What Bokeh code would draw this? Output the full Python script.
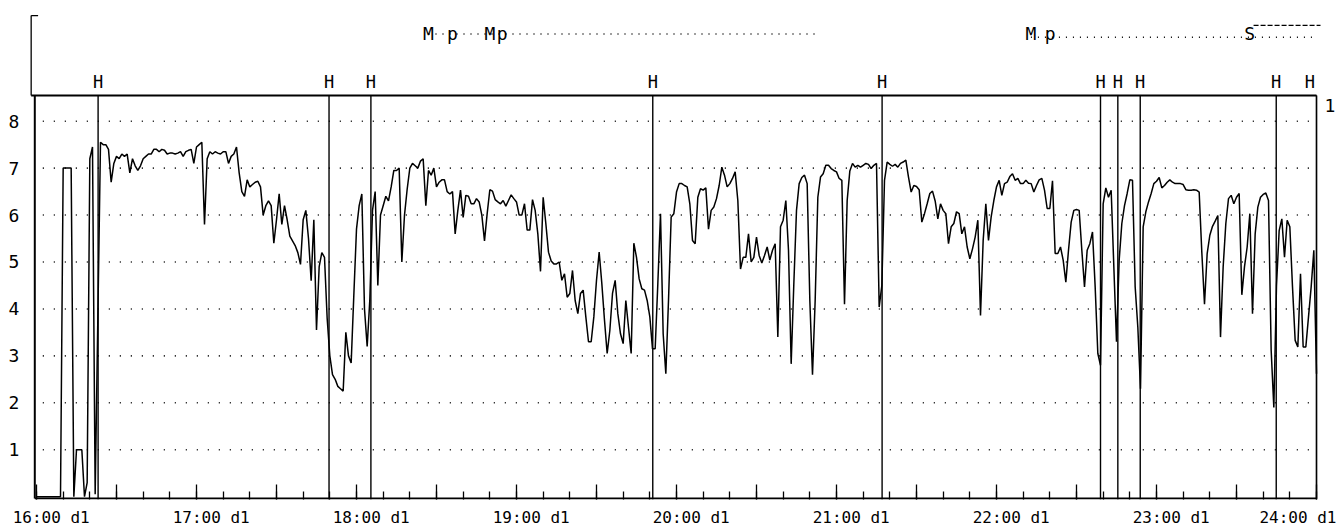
from bokeh.plotting import figure
from bokeh.models import Range1d, FixedTicker, Label
from bokeh.embed import file_html
from bokeh.resources import INLINE
from bokeh.core.properties import value

# ---------------- data ----------------
# one value per minute from 16:00 (minute 0) to 24:00 (minute 480)
values = [
    0, 0, 0, 0, 0, 0, 0, 0, 0, 0,
    7.0, 7.0, 7.0, 7.0, 0.0, 1.0, 1.0, 1.0, 0.0, 0.3,
    7.2, 7.45, 0.05, 3.8, 7.55, 7.5, 7.5, 7.4, 6.7, 7.1,
    7.25, 7.2, 7.3, 7.25, 7.3, 6.9, 7.2, 7.05, 6.95, 7.05,
    7.2, 7.25, 7.3, 7.3, 7.4, 7.4, 7.35, 7.4, 7.38, 7.3,
    7.32, 7.32, 7.3, 7.32, 7.35, 7.25, 7.35, 7.38, 7.4, 7.1,
    7.45, 7.5, 7.55, 5.8, 7.2, 7.35, 7.3, 7.35, 7.32, 7.3,
    7.35, 7.35, 7.1, 7.25, 7.3, 7.45, 6.9, 6.5, 6.4, 6.75,
    6.6, 6.65, 6.7, 6.72, 6.6, 6.0, 6.2, 6.3, 6.2, 5.4,
    5.9, 6.45, 5.8, 6.2, 5.9, 5.55, 5.45, 5.35, 5.2, 4.95,
    5.9, 6.1, 5.5, 4.6, 5.9, 3.55, 4.9, 5.2, 5.1, 3.8,
    3.0, 2.6, 2.5, 2.35, 2.3, 2.25, 3.5, 3.0, 2.85, 4.3,
    5.7, 6.2, 6.45, 4.0, 3.2, 4.2, 6.1, 6.5, 4.5, 6.0,
    6.2, 6.4, 6.3, 6.6, 6.95, 6.95, 7.0, 5.0, 6.0, 6.55,
    7.0, 7.1, 7.05, 7.0, 7.15, 7.2, 6.2, 6.95, 6.85, 7.0,
    6.6, 6.7, 6.75, 6.75, 6.5, 6.45, 6.5, 5.6, 6.1, 6.53,
    5.95, 6.42, 6.4, 6.24, 6.24, 6.35, 6.28, 6.0, 5.45, 6.03,
    6.54, 6.51, 6.33, 6.28, 6.24, 6.31, 6.19, 6.31, 6.43, 6.35,
    6.28, 6.0, 6.0, 6.24, 5.68, 5.68, 6.33, 6.1, 5.6, 4.8,
    6.38, 5.82, 5.21, 5.02, 4.96, 4.96, 5.0, 4.61, 4.75, 4.25,
    4.33, 4.82, 4.18, 3.9, 4.33, 4.4, 3.83, 3.3, 3.3, 3.83,
    4.61, 5.21, 4.54, 3.76, 3.05, 3.54, 4.33, 4.61, 3.9, 3.47,
    3.26, 4.18, 3.61, 3.05, 5.4, 5.1, 4.64, 4.43, 4.4, 4.18,
    3.83, 3.15, 3.15, 4.54, 6.03, 3.47, 2.62, 4.18, 5.96, 6.03,
    6.49, 6.67, 6.67, 6.63, 6.6, 6.24, 5.46, 5.39, 6.38, 6.56,
    6.53, 6.58, 5.7, 6.1, 6.17, 6.35, 6.63, 7.02, 6.85, 6.6,
    6.67, 6.78, 6.92, 6.31, 4.85, 5.1, 5.1, 5.6, 5.0, 5.1,
    5.53, 5.14, 4.98, 5.14, 5.32, 5.04, 5.25, 5.39, 3.4, 5.75,
    5.89, 6.31, 5.25, 2.83, 4.54, 6.1, 6.67, 6.8, 6.85, 6.67,
    4.18, 2.6, 4.18, 6.38, 6.81, 6.88, 7.06, 7.06, 6.99, 6.95,
    6.92, 6.78, 6.74, 4.1, 6.31, 6.94, 7.1, 7.02, 7.06, 7.02,
    7.06, 7.1, 7.08, 6.99, 7.06, 7.1, 4.04, 4.5, 6.74, 7.13,
    7.08, 7.04, 7.08, 7.02, 7.1, 7.13, 7.17, 6.81, 6.49, 6.63,
    6.61, 6.54, 5.85, 6.03, 6.24, 6.46, 6.51, 6.3, 5.92, 6.24,
    6.1, 6.03, 5.39, 5.75, 5.82, 6.07, 6.03, 5.6, 5.75, 5.32,
    5.07, 5.28, 5.53, 5.89, 3.86, 5.46, 6.24, 5.46, 5.96, 6.31,
    6.6, 6.74, 6.42, 6.67, 6.7, 6.82, 6.88, 6.74, 6.78, 6.67,
    6.67, 6.74, 6.68, 6.67, 6.49, 6.63, 6.75, 6.78, 6.53, 6.14,
    6.14, 6.73, 5.18, 5.18, 5.32, 5.04, 4.57, 5.25, 5.85, 6.1,
    6.12, 6.1, 5.25, 4.47, 5.25, 5.39, 5.64, 4.47, 3.05, 2.8,
    6.24, 6.58, 6.38, 6.53, 4.9, 3.3, 5.04, 5.82, 6.2, 6.46,
    6.75, 6.74, 4.47, 3.61, 2.3, 5.75, 6.07, 6.28, 6.46, 6.67,
    6.72, 6.8, 6.58, 6.63, 6.7, 6.75, 6.7, 6.67, 6.67, 6.67,
    6.65, 6.54, 6.53, 6.53, 6.54, 6.53, 6.49, 5.2, 4.1, 5.18,
    5.57, 5.76, 5.87, 5.99, 3.4, 4.9, 5.82, 6.35, 6.42, 6.24,
    6.38, 6.46, 4.3, 4.9, 5.32, 6.03, 3.9, 5.6, 6.17, 6.38,
    6.44, 6.47, 6.31, 3.12, 1.9, 4.5, 5.67, 5.92, 5.1, 5.89,
    5.75, 4.47, 3.33, 3.19, 4.75, 3.19, 3.19, 3.83, 4.47, 5.25,
    2.62,
]
minutes = list(range(len(values)))

y_ticks = [1, 2, 3, 4, 5, 6, 7, 8]
y_tick_labels = ["1", "2", "3", "4", "5", "6", "7", "8"]
hour_ticks = [0, 60, 120, 180, 240, 300, 360, 420, 480]
hour_labels = ["16:00 d1", "17:00 d1", "18:00 d1", "19:00 d1", "20:00 d1",
               "21:00 d1", "22:00 d1", "23:00 d1", "24:00 d1"]

# "H" event times (minutes after 16:00)
h_times = [23.1, 109.7, 125.4, 231.1, 317.1, 399.0, 405.5, 413.9, 464.9, 480.0]

# top-panel markers
marker_text = ["M", "p", "M", "p", "M", "p", "S"]
marker_times = [147.0, 156.0, 170.0, 174.6, 372.9, 380.1, 454.9]
dotted_start = [147.0, 372.9]
dotted_end = [292.9, 480.0]
dashed_start = [456.4]
dashed_end = [481.5]

# ---------------- layout constants ----------------
FONT = "DejaVu Sans Mono"
PX_PER_UNIT = 46.94
Y_LO, Y_HI = -0.06, 10.273
X_LO, X_HI = -13.5, 487.5
AXIS_X = -0.64          # left axis line
PANEL_X = -2.0          # left line of the top panel
TOP_Y = 8.547           # top border of the chart area
END_X = 480.0
LABEL_SHIFT = 5.5       # label centre right of its tick so that the time part sits on the tick
YLABEL_X = -6.4         # right edge of the y tick labels
H_LABEL_Y = 8.835
MARKER_Y = 9.86

p = figure(width=1336, height=529, output_backend="svg", toolbar_location=None,
           x_range=Range1d(X_LO, X_HI), y_range=Range1d(Y_LO, Y_HI),
           min_border_left=0, min_border_right=0, min_border_top=14,
           min_border_bottom=30)
p.title.visible = False
p.outline_line_color = None
p.grid.visible = False
p.yaxis.visible = False
p.background_fill_color = "white"
p.border_fill_color = "white"

# x axis: hour labels (major, no tick line) + 10-min minor ticks
ax = p.xaxis[0]
label_pos = [t + LABEL_SHIFT for t in hour_ticks]
edge_pos = X_LO + 0.5   # empty label at the very left edge
ax.ticker = FixedTicker(ticks=[edge_pos] + label_pos, minor_ticks=list(range(0, 481, 10)))
ax.axis_line_color = None
ax.major_tick_line_color = None
ax.major_tick_in = 0
ax.major_tick_out = 0
ax.minor_tick_in = 8
ax.minor_tick_out = 0
ax.minor_tick_line_color = "black"
ax.minor_tick_line_width = 1.3
overrides = {pos: lab for pos, lab in zip(label_pos, hour_labels)}
overrides[edge_pos] = ""
ax.major_label_overrides = overrides
ax.major_label_standoff = 8
ax.major_label_text_font = FONT
ax.major_label_text_font_size = "16px"
ax.major_label_text_color = "black"

# tall half-hour ticks
half_hours = list(range(0, 481, 30))
p.segment(x0=half_hours, y0=[Y_LO] * len(half_hours), x1=half_hours,
          y1=[Y_LO + 15.0 / PX_PER_UNIT] * len(half_hours),
          line_color="black", line_width=1.3)

# y tick labels
p.text(x=[YLABEL_X] * len(y_ticks), y=y_ticks, text=y_tick_labels,
       text_align="right", text_baseline="middle",
       text_font=value(FONT), text_font_size="18px", text_color="black")

# dotted horizontal grid
p.segment(x0=[AXIS_X + 3] * len(y_ticks), y0=y_ticks, x1=[END_X] * len(y_ticks), y1=y_ticks,
          line_color="black", line_width=1.6, line_dash="1 10")

# frame lines
bottom_y = Y_LO + 1.0 / PX_PER_UNIT
p.segment(x0=[AXIS_X, PANEL_X, AXIS_X], y0=[bottom_y, TOP_Y, bottom_y],
          x1=[END_X, END_X, AXIS_X], y1=[bottom_y, TOP_Y, TOP_Y],
          line_color="black", line_width=2)
p.segment(x0=[END_X, PANEL_X, PANEL_X], y0=[bottom_y, TOP_Y, 10.25],
          x1=[END_X, PANEL_X, PANEL_X + 2.6], y1=[TOP_Y, 10.25, 10.25],
          line_color="black", line_width=1.3)

# H event lines and labels
p.segment(x0=h_times, y0=[Y_LO] * len(h_times), x1=h_times, y1=[TOP_Y] * len(h_times),
          line_color="black", line_width=1.4)
h_label_x = [min(t, 477.5) for t in h_times]
p.text(x=h_label_x, y=[H_LABEL_Y] * len(h_times), text=["H"] * len(h_times),
       text_align="center", text_baseline="middle",
       text_font=value(FONT), text_font_size="17px", text_color="black")

# main trace
p.line(minutes, values, line_color="black", line_width=1.5)

# top panel: marker states
p.segment(x0=dotted_start, y0=[9.86, 9.79], x1=dotted_end, y1=[9.86, 9.79],
          line_color="black", line_width=1.5, line_dash="1 6")
p.segment(x0=dashed_start, y0=[10.04], x1=dashed_end, y1=[10.04],
          line_color="black", line_width=1.3, line_dash="5 2")
p.text(x=marker_times, y=[MARKER_Y] * len(marker_times), text=marker_text,
       text_align="center", text_baseline="middle",
       text_font=value(FONT), text_font_size="18px", text_color="black")

# right-hand "1"
p.add_layout(Label(x=483.0, y=8.334, text="1", text_align="left", text_baseline="middle",
                   text_font=FONT, text_font_size="18px", text_color="black"))

open("out.html", "w").write(file_html(p, INLINE))
